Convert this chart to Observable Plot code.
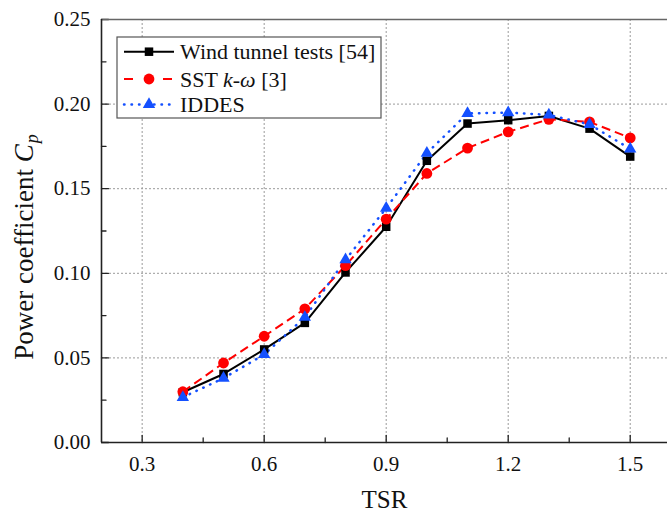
<!DOCTYPE html>
<html><head><meta charset="utf-8">
<script src="https://cdn.jsdelivr.net/npm/d3@7"></script>
<script src="https://cdn.jsdelivr.net/npm/@observablehq/plot@0.6"></script>
<style>
body{margin:0;background:#fff}
#chart{width:667px;height:513px;overflow:hidden}
</style>
</head><body><div id="chart"></div>
<script>
// ---- data ----
const tsr = [0.4, 0.5, 0.6, 0.7, 0.8, 0.9, 1.0, 1.1, 1.2, 1.3, 1.4, 1.5];
const windTunnel = [0.0297, 0.0405, 0.0550, 0.0707, 0.1005, 0.1275, 0.1665, 0.1885, 0.1905, 0.1930, 0.1855, 0.1690];
const sstKw      = [0.0300, 0.0470, 0.0628, 0.0790, 0.1045, 0.1320, 0.1590, 0.1740, 0.1836, 0.1910, 0.1895, 0.1800];
const iddes      = [0.0267, 0.0380, 0.0520, 0.0740, 0.1080, 0.1385, 0.1710, 0.1945, 0.1950, 0.1936, 0.1880, 0.1735];
const seriesNames = ["Wind tunnel tests [54]", "SST k-ω [3]", "IDDES"];
const xMajor = [0.3, 0.6, 0.9, 1.2, 1.5];
const xMinor = [0.45, 0.75, 1.05, 1.35];
const xTickLabels = ["0.3", "0.6", "0.9", "1.2", "1.5"];
const yMajor = [0, 0.05, 0.10, 0.15, 0.20, 0.25];
const yMinor = [0.025, 0.075, 0.125, 0.175, 0.225];
const yTickLabels = ["0.00", "0.05", "0.10", "0.15", "0.20", "0.25"];

// ---- styles ----
const styles = [
  {color: "#000000", symbol: "square",   r: 4.8, width: 2,   dash: null,    cap: "butt"},
  {color: "#ff0000", symbol: "circle",   r: 5.4, width: 2,   dash: "9,5",   cap: "butt"},
  {color: "#1450ff", symbol: "triangle", r: 4.6, width: 2.5, dash: "0.5,7", cap: "round"}
];
const values = [windTunnel, sstKw, iddes];
const rows = seriesNames.map((name, k) => tsr.map((x, i) => ({name, x, y: values[k][i]})));

const W = 667, H = 513, mL = 101, mT = 19, mB = 71, mR = 0;
const pxPerUnit = 406.7;
const xMax = 0.2 + (W - mL - mR) / pxPerUnit;
const font = "'Liberation Serif', 'Times New Roman', serif";

// tick shape: a plain line segment of the given length
const tickShape = {draw(context, l) { context.moveTo(0, 0); context.lineTo(0, -l); }};
const tickStyle = {stroke: "#222", strokeWidth: 1.3, shape: tickShape, anchor: "start"};

const marks = [
  Plot.gridX(xMajor, {stroke: "#9a9a9a", strokeOpacity: 1, strokeWidth: 1, strokeDasharray: "2,2"}),
  Plot.gridY(yMajor.filter(v => v > 0 && v < 0.25), {stroke: "#9a9a9a", strokeOpacity: 1, strokeWidth: 1, strokeDasharray: "2,2"}),
  // inward ticks
  Plot.vector(xMajor, {x: d => d, frameAnchor: "bottom", length: 7, rotate: 0, ...tickStyle}),
  Plot.vector(xMinor, {x: d => d, frameAnchor: "bottom", length: 4.5, rotate: 0, ...tickStyle}),
  Plot.vector(yMajor, {y: d => d, frameAnchor: "left", length: 7, rotate: 90, ...tickStyle}),
  Plot.vector(yMinor, {y: d => d, frameAnchor: "left", length: 4.5, rotate: 90, ...tickStyle}),
  // tick labels
  Plot.axisX(xMajor, {tickSize: 0, tickPadding: 14, tickFormat: d => xTickLabels[xMajor.indexOf(d)], fontSize: 21, fill: "#111", label: null}),
  Plot.axisY(yMajor, {tickSize: 0, tickPadding: 11, tickFormat: d => yTickLabels[yMajor.indexOf(d)], fontSize: 21, fill: "#111", label: null}),
  // frame
  Plot.ruleY([0.25], {stroke: "#666", strokeWidth: 1.6}),
  Plot.ruleY([0], {stroke: "#222", strokeWidth: 1.6}),
  Plot.ruleX([0.2], {stroke: "#222", strokeWidth: 1.6}),
  Plot.text(["TSR"], {frameAnchor: "bottom", dy: 65, lineAnchor: "bottom", fontSize: 25, fill: "#111"})
];
rows.forEach((data, k) => {
  const s = styles[k];
  marks.push(Plot.line(data, {x: "x", y: "y", stroke: s.color, strokeWidth: s.width, strokeDasharray: s.dash, strokeLinecap: s.cap}));
});
rows.forEach((data, k) => {
  const s = styles[k];
  marks.push(Plot.dot(data, {x: "x", y: "y", symbol: () => s.symbol, fill: s.color, stroke: "none", r: s.r}));
});

const plot = Plot.plot({
  width: W, height: H,
  marginLeft: mL, marginTop: mT, marginBottom: mB, marginRight: mR,
  style: {fontFamily: font, background: "#fff", color: "#111", overflow: "hidden"},
  x: {domain: [0.2, xMax], axis: null},
  y: {domain: [0, 0.25], axis: null},
  symbol: {type: "identity"},
  marks
});
document.getElementById("chart").appendChild(plot);

// ---- y axis title with italic C and subscript p ----
const svg = d3.select(plot);
const yt = svg.append("text")
  .attr("transform", "translate(33,247) rotate(-90)")
  .attr("text-anchor", "middle")
  .style("font-family", font).style("font-size", "27px").attr("fill", "#111");
yt.append("tspan").text("Power coefficient ");
yt.append("tspan").style("font-style", "italic").text("C");
yt.append("tspan").style("font-style", "italic").style("font-size", "18px").attr("dx", "1").attr("dy", "0.3em").text("p");

// ---- legend inside the frame ----
const lg = svg.append("g");
lg.append("rect").attr("x", 117).attr("y", 37).attr("width", 264).attr("height", 81)
  .attr("fill", "#fff").attr("stroke", "#555").attr("stroke-width", 1.2);
const rowY = [51.7, 79, 104.5];
const legDash = [null, "9,30", "0.5,7"];
seriesNames.forEach((name, k) => {
  const s = styles[k], y = rowY[k];
  lg.append("line").attr("x1", 124).attr("x2", 174).attr("y1", y).attr("y2", y)
    .attr("stroke", s.color).attr("stroke-width", s.width)
    .attr("stroke-dasharray", legDash[k]).attr("stroke-linecap", s.cap);
  const sym = {square: d3.symbolSquare, circle: d3.symbolCircle, triangle: d3.symbolTriangle}[s.symbol];
  lg.append("path").attr("d", d3.symbol(sym, Math.PI * s.r * s.r)())
    .attr("transform", `translate(149,${y})`).attr("fill", s.color);
  const t = lg.append("text").attr("x", 180).attr("y", y + 7.5).attr("text-anchor", "start")
    .style("font-family", font).style("font-size", "22px").attr("fill", "#111");
  if (k === 1) {
    t.append("tspan").text("SST ");
    t.append("tspan").style("font-style", "italic").text("k");
    t.append("tspan").text("-");
    t.append("tspan").style("font-style", "italic").text("ω");
    t.append("tspan").text(" [3]");
  } else {
    t.text(name);
  }
});
</script>
</body></html>
